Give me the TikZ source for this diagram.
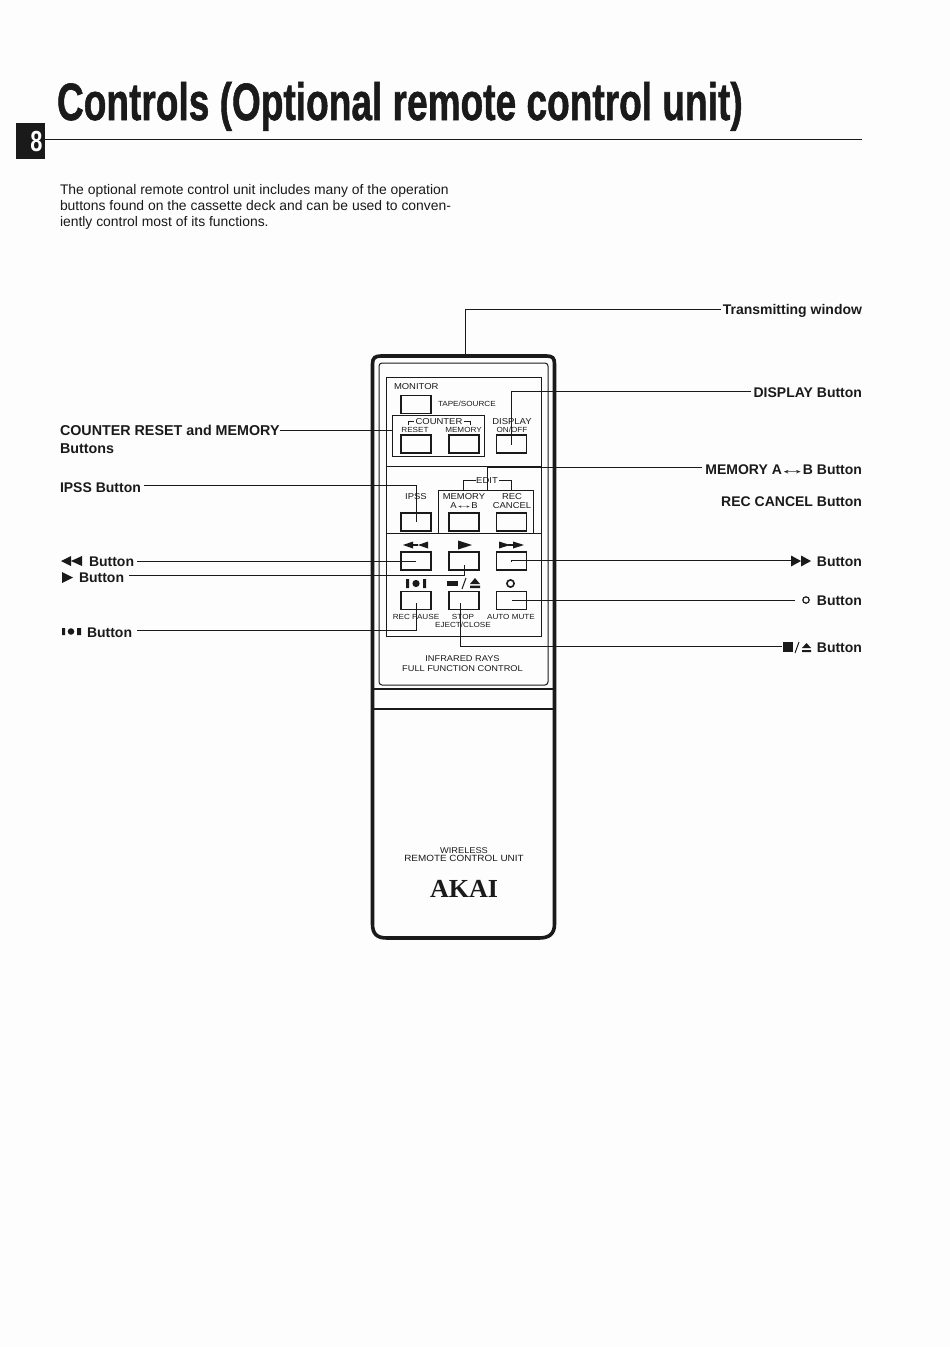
\documentclass[tikz,border=0pt]{standalone}
\usepackage{fontspec}
\usepackage{graphicx}
\setmainfont{Liberation Sans}
\newfontfamily\akaiserif{Liberation Serif}
\newfontfamily\widefont[FakeStretch=1.1]{Liberation Sans}
\newfontfamily\heavyfont[FakeBold=1.2]{Liberation Sans Bold}
\definecolor{ink}{HTML}{1A1A1A}
\definecolor{paper}{HTML}{FDFDFD}
\newcommand{\fsz}[2]{\fontsize{#1}{#2}\selectfont}
\newcommand{\abarrow}{\kern-0.25em\scalebox{2}[1]{↔}\kern-0.25em}
\tikzset{
  x=1pt,y=-1pt,
  every node/.style={inner sep=0pt,outer sep=0pt,text=ink},
  lbl/.style={font=\fsz{14}{17}\bfseries,text height=11pt,text depth=3pt},
  lblr/.style={lbl,anchor=east},
  lbll/.style={lbl,anchor=west},
  body/.style={font=\fsz{13.9}{16},align=left,anchor=north west},
  small/.style={font=\widefont\fsz{8.6}{9},align=center,anchor=center},
  mini/.style={font=\widefont\fsz{7.4}{8},align=center,anchor=center},
  btn/.style={draw=ink,line width=1.4pt,minimum width=30pt,minimum height=18pt},
  lead/.style={draw=ink,line width=0.9pt},
  frame/.style={draw=ink,line width=1pt},
  icon/.style={fill=ink,draw=none}
}
\begin{document}
\begin{tikzpicture}
\useasboundingbox[fill=paper] (0,0) rectangle (950,1347);
% heading
\node[anchor=base west,font=\heavyfont\fsz{52.5}{54}] (title) at (57,120) {\scalebox{0.706}[1]{Controls (Optional remote control unit)}};
\node[fill=ink,minimum width=29pt,minimum height=36pt,anchor=center] (pagebox) at (30.5,141) {};
\node[font=\fsz{29}{30}\bfseries,text=white] (pagenum) at (36.5,141.5) {\scalebox{0.75}[1]{8}};
\coordinate (ruleend) at (862,139);
\draw[draw=ink,line width=0.9pt] (pagebox.east |- ruleend) -- (ruleend);
\node[body] (intro) at (60,184.5) {The optional remote control unit includes many of the operation\\buttons found on the cassette deck and can be used to conven-\\iently control most of its functions.};
% remote body
\draw[draw=ink,line width=3.6pt] (381,356) -- (546.5,356) .. controls (552.5,356) and (554.5,358) .. (554.5,364) -- (554.5,924) .. controls (554.5,934) and (549,938) .. (539,938) -- (387,938) .. controls (377,938) and (372.5,934) .. (372.5,924) -- (372.5,364) .. controls (372.5,358) and (375,356) .. (381,356) -- cycle;
\draw[frame,rounded corners=3pt] (379,363) rectangle (548,685);
\draw[draw=ink,line width=1.4pt] (373,689) -- (555,689);
\draw[draw=ink,line width=1.4pt] (373,709) -- (555,709);
\draw[frame] (386,377) rectangle (541,636);
\draw[frame] (386,466) -- (541,466);
\draw[frame] (386,533) -- (541,533);
% top section
\node[small,anchor=west] (monitor) at (394,387) {MONITOR};
\node[btn] (bmon) at (416,404.5) {};
\node[mini,anchor=west] (tape) at (438,404) {TAPE/SOURCE};
\node[draw=ink,line width=1pt,minimum width=92pt,minimum height=41pt] (cntbox) at (438,435.5) {};
\node[small] (counter) at (439,422) {COUNTER};
\draw[frame] (408,425) |- (414,421);
\draw[frame] (470,425) |- (464,421);
\node[mini] (reset) at (415,430) {RESET};
\node[mini] (memtop) at (463.5,430) {MEMORY};
\node[small] (display) at (512,422) {DISPLAY};
\node[mini] (onoff) at (512,430) {ON/OFF};
\node[btn] (breset) at (416,444) {};
\node[btn] (bmemory) at (464,444) {};
\node[btn] (bdisp) at (511.5,444) {};
% edit section
\node[small] (edit) at (487,481) {EDIT};
\node[draw=ink,line width=1pt,minimum width=95pt,minimum height=43pt] (editbox) at (485.5,511.5) {};
\draw[frame] (463,490) |- (476,480);
\draw[frame] (511,490) |- (499,480);
\node[small] (ipss) at (416,497) {IPSS};
\node[small] (memab) at (464,497) {MEMORY};
\node[small] (ab) at (464,505.5) {A\abarrow B};
\node[small] (rec) at (512,497) {REC};
\node[small] (cancel) at (512,505.5) {CANCEL};
\node[btn] (bipss) at (416,522) {};
\node[btn] (bab) at (464,522) {};
\node[btn] (brec) at (511.5,522) {};
% transport section icons
\fill[icon] (403,545) -- (413,541.5) -- (413,548.5) -- cycle (418,545) -- (428,541.5) -- (428,548.5) -- cycle;
\draw[draw=ink,line width=1.2pt] (413,545) -- (418,545);
\fill[icon] (458,540.5) -- (472,545) -- (458,549.5) -- cycle;
\fill[icon] (499,541.5) -- (510,545) -- (499,548.5) -- cycle (513,541.5) -- (524,545) -- (513,548.5) -- cycle;
\draw[draw=ink,line width=1.2pt] (508,545) -- (513,545);
\fill[icon] (406,579) rectangle (409,588) (423,579) rectangle (426,588);
\fill[icon] (416,583.5) circle (3.6);
\fill[icon] (447,581) rectangle (458,586);
\draw[draw=ink,line width=1pt] (462,589) -- (466,578);
\fill[icon] (470,584) -- (475,578) -- (480,584) -- cycle (470,585.5) rectangle (480,588);
\draw[draw=ink,line width=1.6pt] (510.5,583.5) circle (3.6);
\node[btn] (brew) at (416,561) {};
\node[btn] (bplay) at (464,561) {};
\node[btn] (bff) at (511.5,561) {};
\node[btn] (bpause) at (416,600.5) {};
\node[btn] (bstop) at (464,600.5) {};
\node[btn] (bmute) at (511.5,600.5) {};
\node[mini] (recpause) at (416,616.5) {REC PAUSE};
\node[mini] (stop) at (463,616.5) {STOP};
\node[mini] (automute) at (511,616.5) {AUTO MUTE};
\node[mini] (eject) at (463,625) {EJECT/CLOSE};
\node[small,font=\widefont\fsz{8.4}{10}] (infra) at (462.5,663.5) {INFRARED RAYS\\FULL FUNCTION CONTROL};
\node[small,font=\widefont\fsz{9}{8}] (wireless) at (464,854.5) {\fsz{8.4}{8}WIRELESS\\REMOTE CONTROL UNIT};
\node[font=\akaiserif\fsz{26}{28}\bfseries] (akai) at (464,889) {AKAI};
% left labels
\node[font=\fsz{14.3}{18}\bfseries,align=left,anchor=north west] (lcounter) at (60,425.5) {COUNTER RESET and MEMORY\\Buttons};
\node[lbll] (lipss) at (60,488) {IPSS Button};
\node[lbll] (lrew) at (89,562) {Button};
\node[lbll] (lplay) at (79,578.5) {Button};
\node[lbll] (lpause) at (87,633) {Button};
\fill[icon] (61,561) -- (71,556) -- (71,566) -- cycle (71,561) -- (82,556) -- (82,566) -- cycle;
\fill[icon] (62,572) -- (73,577.5) -- (62,583) -- cycle;
\fill[icon] (62,628) rectangle (65,635) (77,628) rectangle (81,635);
\fill[icon] (71,631.5) circle (3.3);
% right labels
\node[lblr] (rtrans) at (862,310.5) {Transmitting window};
\node[lblr] (rdisp) at (862,393) {DISPLAY Button};
\node[lblr] (rmem) at (862,470.5) {MEMORY A\abarrow B Button};
\node[lblr] (rrec) at (862,502.5) {REC CANCEL Button};
\node[lblr] (rff) at (862,562.5) {Button};
\node[lblr] (rmute) at (862,601.5) {Button};
\node[lblr] (rstop) at (862,648) {Button};
\fill[icon] (791,555.5) -- (801,561) -- (791,566.5) -- cycle (801,555.5) -- (811,561) -- (801,566.5) -- cycle;
\draw[draw=ink,line width=1.2pt] (806,600) circle (3.2);
\fill[icon] (783,642) rectangle (793,652);
\draw[draw=ink,line width=1pt] (795,653) -- (799,642);
\fill[icon] (802,648) -- (806.5,643) -- (811,648) -- cycle (802,650) rectangle (811,652);
% leaders
\coordinate (window) at (465,355);
\draw[lead] ([xshift=-2pt,yshift=1pt]rtrans.west) -| (window);
\draw[lead] ([xshift=-3pt,yshift=1.5pt]rdisp.west) -| ([yshift=-1pt]bdisp.center);
\draw[lead] ([xshift=-3pt,yshift=3pt]rmem.west) -| (editbox.north -| edit.south);
\draw[lead] ([yshift=-4.5pt]lcounter.north east) -- ([yshift=-4.5pt]lcounter.north east -| cntbox.west);
\draw[lead] ([xshift=3pt,yshift=2.5pt]lipss.east) -| (bipss.center);
\draw[lead] ([xshift=3pt,yshift=1pt]lrew.east) -- (brew.center);
\draw[lead] ([xshift=5pt,yshift=3.5pt]lplay.east) -| ([yshift=-4pt]bplay.center);
\draw[lead] ([xshift=5pt,yshift=3pt]lpause.east) -| ([yshift=-2pt]bpause.center);
\draw[lead] ([xshift=-71pt,yshift=2pt]rff.east) -| (bff.center);
\draw[lead] ([xshift=-67pt,yshift=1pt]rmute.east) -- (bmute.center);
\draw[lead] ([xshift=-80pt,yshift=2pt]rstop.east) -| ([xshift=-4pt,yshift=-2pt]bstop.center);
\end{tikzpicture}
\end{document}
